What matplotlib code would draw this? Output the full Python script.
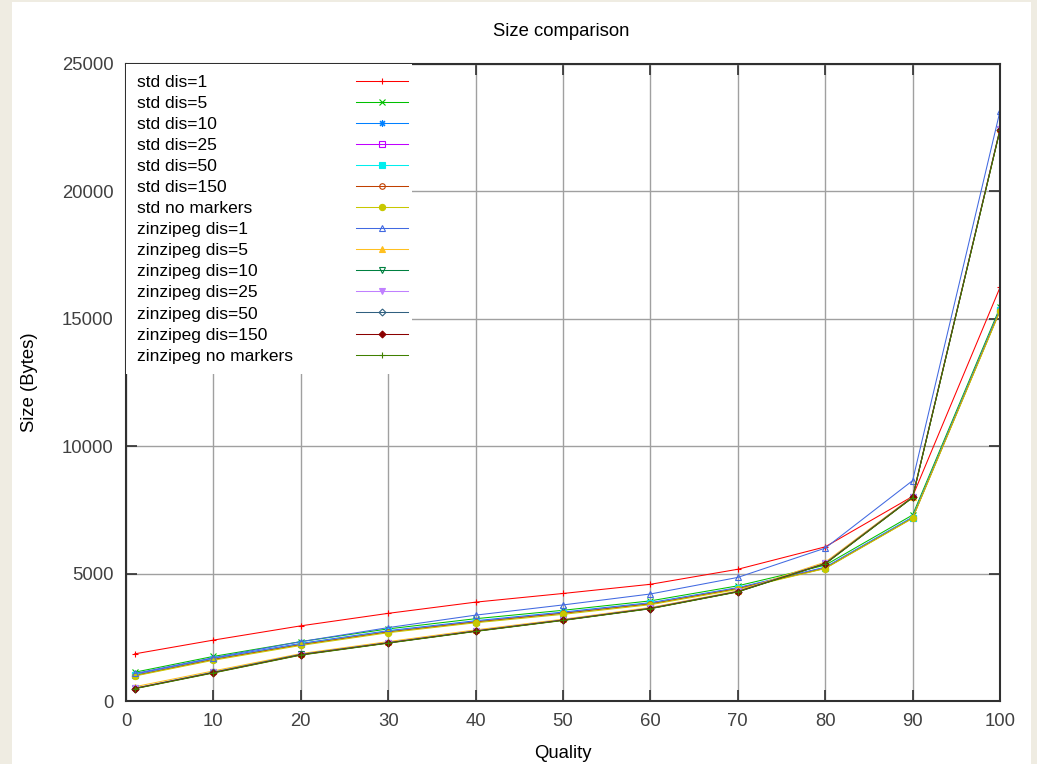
import numpy as np
import matplotlib.pyplot as plt
from matplotlib.patches import Rectangle

plt.rcParams['font.family'] = ['Liberation Sans', 'DejaVu Sans']

quality = [1, 10, 20, 30, 40, 50, 60, 70, 80, 90, 100]

std_dis1 = [1850, 2390, 2950, 3440, 3880, 4220, 4580, 5170, 6050, 8030, 16230]
std_dis5 = [1130, 1750, 2330, 2830, 3230, 3560, 3930, 4520, 5330, 7300, 15450]
std_dis10 = [1050, 1680, 2260, 2760, 3150, 3490, 3860, 4450, 5250, 7220, 15380]
std_dis25 = [1040, 1660, 2240, 2740, 3120, 3460, 3840, 4430, 5230, 7200, 15350]
std_dis50 = [1020, 1650, 2230, 2730, 3110, 3450, 3830, 4420, 5220, 7200, 15330]
std_dis150 = [1000, 1630, 2210, 2710, 3100, 3440, 3810, 4410, 5210, 7180, 15320]
std_nomark = [980, 1600, 2180, 2680, 3070, 3400, 3780, 4380, 5200, 7170, 15300]
zz_dis1 = [1080, 1700, 2330, 2880, 3370, 3770, 4200, 4850, 6000, 8650, 23150]
zz_dis5 = [560, 1180, 1860, 2330, 2790, 3210, 3670, 4320, 5450, 8020, 22450]
zz_dis10 = [500, 1130, 1830, 2290, 2750, 3180, 3640, 4300, 5400, 8000, 22430]
zz_dis25 = [500, 1120, 1820, 2290, 2750, 3180, 3640, 4300, 5400, 8000, 22450]
zz_dis50 = [490, 1120, 1820, 2280, 2740, 3170, 3630, 4290, 5390, 7990, 22420]
zz_dis150 = [490, 1110, 1810, 2280, 2740, 3170, 3630, 4290, 5390, 7990, 22420]
zz_nomark = [480, 1100, 1800, 2270, 2730, 3160, 3620, 4280, 5380, 7980, 22400]

series = [std_dis1, std_dis5, std_dis10, std_dis25, std_dis50, std_dis150, std_nomark,
          zz_dis1, zz_dis5, zz_dis10, zz_dis25, zz_dis50, zz_dis150, zz_nomark]
labels = ['std dis=1', 'std dis=5', 'std dis=10', 'std dis=25', 'std dis=50',
          'std dis=150', 'std no markers', 'zinzipeg dis=1', 'zinzipeg dis=5',
          'zinzipeg dis=10', 'zinzipeg dis=25', 'zinzipeg dis=50',
          'zinzipeg dis=150', 'zinzipeg no markers']
colors = ['#ff0000', '#00c000', '#0080ff', '#c000ff', '#00eeee', '#c04000', '#c8c800',
          '#4169e1', '#ffc020', '#008040', '#c080ff', '#306080', '#8b0000', '#408000']
markers = ['+', 'x', (8, 2, 0), 's', 's', 'o', 'o', '^', '^', 'v', 'v', 'D', 'D', '+']
filled = [True, True, True, False, True, False, True, False, True, False, True, False, True, True]
msizes = [5, 4.5, 5, 4.5, 4.5, 4, 4.5, 5, 5, 5, 5, 3.5, 3.5, 5]

fig = plt.figure(figsize=(10.37, 7.64), dpi=100, facecolor='#efece2')
fig.add_artist(Rectangle((12 / 1037, 0), (1031 - 12) / 1037, 1 - 2 / 764,
                         transform=fig.transFigure, facecolor='white',
                         edgecolor='none', zorder=-1))
ax = fig.add_axes([126 / 1037, 1 - 701 / 764, (1000 - 126) / 1037, (701 - 64) / 764])

lines = []
for ys, lab, c, m, f, s in zip(series, labels, colors, markers, filled, msizes):
    ln, = ax.plot(quality, ys, color=c, lw=0.75, marker=m, ms=s, mew=0.8,
                  mfc=c if f else 'none', mec=c, label=lab)
    lines.append(ln)

ax.set_xlim(0, 100)
ax.set_ylim(0, 25000)
ax.set_xticks(np.arange(0, 101, 10))
ax.set_yticks(np.arange(0, 25001, 5000))
ax.grid(True, color='#a0a0a0', lw=1)
ax.set_axisbelow(True)
ax.tick_params(direction='in', length=8, width=1.2, top=True, right=True,
               labelsize=13.3, labelcolor='#404040', color='#303030', pad=9)
for sp in ax.spines.values():
    sp.set_color('#303030')
    sp.set_linewidth(1.5)

fig.text(561 / 1037, 1 - 32 / 764, 'Size comparison', ha='center', va='center',
         fontsize=13.3)
ax.set_xlabel('Quality', fontsize=13.3)
ax.xaxis.set_label_coords(0.5, (701 - 745) / 637)
ax.set_ylabel('Size (Bytes)', fontsize=13.3)
ax.yaxis.set_label_coords((38 - 126) / 874, 0.5)

fs = 12.5
# text column with white box
leg1 = ax.legend(lines, labels, loc='upper left', bbox_to_anchor=(0, 0, 0.327, 1),
                 mode='expand', fontsize=fs, handlelength=0, handletextpad=0.01,
                 borderpad=0.62, borderaxespad=0, labelspacing=0.34,
                 frameon=True, fancybox=False, framealpha=1,
                 facecolor='white', edgecolor='none')
for h in leg1.legend_handles:
    h.set_visible(False)
ax.add_artist(leg1)
# sample column
ax.legend(lines, [' '] * len(lines), loc='upper left',
          bbox_to_anchor=((356 - 126) / 874 - 0.0123, 1), fontsize=fs,
          handlelength=3.0, handletextpad=0, borderpad=0.62, borderaxespad=0,
          labelspacing=0.34, frameon=False)

fig.savefig('out.png', dpi=100, facecolor=fig.get_facecolor())
